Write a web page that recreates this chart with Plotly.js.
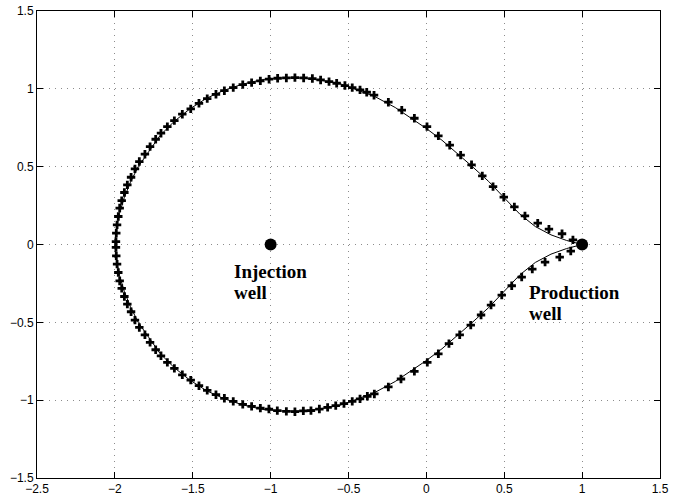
<!DOCTYPE html>
<html>
<head>
<meta charset="utf-8">
<script src="https://cdn.plot.ly/plotly-3.0.1.min.js"></script>
<style>html,body{margin:0;padding:0;background:#fff;}#chart{width:673px;height:504px;}</style>
</head>
<body>
<div id="chart"></div>
<script>
// Solid line (front), upper branch then lower branch
const lineX = [1.0, 0.96, 0.9, 0.8, 0.7, 0.6, 0.5, 0.4, 0.29, 0.2, 0.1, 0.0, -0.08, -0.2, -0.33, -0.45, -0.56, -0.68, -0.8, -0.92, -1.05, -1.18, -1.3, -1.41, -1.52, -1.62, -1.71, -1.78, -1.85, -1.9, -1.94, -1.97, -1.99, -2.0,
               -1.99, -1.97, -1.94, -1.9, -1.85, -1.78, -1.71, -1.62, -1.52, -1.41, -1.3, -1.18, -1.05, -0.92, -0.8, -0.68, -0.56, -0.45, -0.33, -0.2, -0.08, 0.0, 0.1, 0.2, 0.29, 0.4, 0.5, 0.6, 0.7, 0.8, 0.9, 0.96, 1.0];
const lineY = [0.0, 0.01, 0.026, 0.062, 0.115, 0.195, 0.298, 0.405, 0.505, 0.585, 0.67, 0.745, 0.8, 0.88, 0.95, 0.995, 1.035, 1.055, 1.07, 1.07, 1.06, 1.03, 0.99, 0.94, 0.87, 0.79, 0.7, 0.6, 0.5, 0.4, 0.3, 0.2, 0.1, 0.0,
               -0.1, -0.2, -0.3, -0.4, -0.5, -0.6, -0.7, -0.79, -0.87, -0.94, -0.99, -1.03, -1.06, -1.07, -1.07, -1.055, -1.035, -0.995, -0.95, -0.88, -0.8, -0.745, -0.67, -0.585, -0.505, -0.405, -0.298, -0.195, -0.115, -0.062, -0.026, -0.01, 0.0];

// Plus markers (numerical front), upper branch
const upX = [-1.993, -1.991, -1.986, -1.978, -1.969, -1.956, -1.939, -1.92, -1.896, -1.871, -1.843, -1.807, -1.774, -1.738, -1.704, -1.663, -1.618, -1.567, -1.513, -1.46, -1.407, -1.351, -1.297, -1.24, -1.179, -1.122, -1.066, -1.01, -0.955, -0.899, -0.844, -0.788, -0.732, -0.679, -0.625, -0.576, -0.523, -0.476, -0.426, -0.383, -0.336, -0.244, -0.158, -0.077, 0.004, 0.077, 0.15, 0.22, 0.29, 0.359, 0.428, 0.497, 0.565, 0.633, 0.715, 0.787, 0.871, 0.941];
const upY = [0.019, 0.073, 0.126, 0.18, 0.234, 0.282, 0.334, 0.383, 0.432, 0.486, 0.533, 0.58, 0.629, 0.676, 0.715, 0.757, 0.796, 0.837, 0.871, 0.907, 0.937, 0.965, 0.988, 1.008, 1.027, 1.04, 1.051, 1.062, 1.068, 1.07, 1.072, 1.07, 1.066, 1.057, 1.046, 1.036, 1.021, 1.008, 0.993, 0.978, 0.959, 0.914, 0.863, 0.811, 0.757, 0.698, 0.638, 0.574, 0.512, 0.441, 0.372, 0.304, 0.242, 0.184, 0.137, 0.099, 0.069, 0.03];
// Plus markers, lower branch
const lowX = [-1.993, -1.991, -1.986, -1.978, -1.969, -1.956, -1.939, -1.92, -1.896, -1.871, -1.843, -1.807, -1.774, -1.738, -1.704, -1.663, -1.618, -1.567, -1.513, -1.46, -1.407, -1.351, -1.297, -1.24, -1.179, -1.122, -1.066, -1.011, -0.957, -0.899, -0.844, -0.79, -0.741, -0.687, -0.634, -0.582, -0.529, -0.476, -0.426, -0.379, -0.334, -0.244, -0.163, -0.077, 0.006, 0.077, 0.145, 0.214, 0.285, 0.351, 0.415, 0.484, 0.548, 0.612, 0.68, 0.762, 0.856, 0.927];
const lowY = [-0.019, -0.073, -0.126, -0.18, -0.234, -0.282, -0.334, -0.383, -0.432, -0.486, -0.533, -0.58, -0.629, -0.676, -0.715, -0.757, -0.796, -0.837, -0.871, -0.907, -0.937, -0.965, -0.988, -1.008, -1.027, -1.04, -1.051, -1.057, -1.067, -1.072, -1.074, -1.069, -1.067, -1.057, -1.046, -1.035, -1.022, -1.008, -0.992, -0.975, -0.96, -0.915, -0.864, -0.815, -0.757, -0.702, -0.637, -0.58, -0.518, -0.453, -0.389, -0.325, -0.265, -0.209, -0.158, -0.113, -0.081, -0.042];

// Wells
const wellX = [-1, 1];
const wellY = [0, 0];

const tickVals = [-2.5, -2, -1.5, -1, -0.5, 0, 0.5, 1, 1.5];
const yTickVals = [-1.5, -1, -0.5, 0, 0.5, 1, 1.5];

const traces = [
  {x: lineX, y: lineY, mode: 'lines', line: {color: '#000', width: 1}, hoverinfo: 'skip'},
  {x: upX, y: upY, mode: 'markers', marker: {symbol: 'cross', size: 7, color: '#000'}},
  {x: lowX, y: lowY, mode: 'markers', marker: {symbol: 'cross', size: 7, color: '#000'}},
  {x: wellX, y: wellY, mode: 'markers', marker: {symbol: 'circle', size: 12, color: '#000'}}
];

const annFont = {family: 'Liberation Serif, Times New Roman, serif', size: 19, color: '#000', weight: 'bold'};
const gridStyle = {showgrid: true, gridcolor: '#8c8c8c', griddash: '1px,5px', gridwidth: 1};
const layout = {
  width: 673, height: 504,
  margin: {l: 37, r: 13, t: 11, b: 26},
  paper_bgcolor: '#fff', plot_bgcolor: '#fff',
  showlegend: false,
  font: {family: 'Liberation Sans, Arial, sans-serif', size: 12, color: '#000'},
  xaxis: Object.assign({
    range: [-2.5, 1.5], tickvals: tickVals, ticktext: tickVals.map(v => String(v).replace('-', '\u2212')),
    zeroline: false, showline: true, linecolor: '#000', linewidth: 1, mirror: 'ticks',
    ticks: 'inside', ticklen: 6, tickcolor: '#000', tickfont: {size: 12}
  }, gridStyle),
  yaxis: Object.assign({
    range: [-1.5, 1.5], tickvals: yTickVals, ticktext: yTickVals.map(v => String(v).replace('-', '\u2212')),
    zeroline: false, showline: true, linecolor: '#000', linewidth: 1, mirror: 'ticks',
    ticks: 'inside', ticklen: 6, tickcolor: '#000', tickfont: {size: 12}
  }, gridStyle),
  annotations: [
    {x: -1.245, y: -0.175, xref: 'x', yref: 'y', text: '<b>Injection</b>', showarrow: false, xanchor: 'left', yanchor: 'middle', font: annFont},
    {x: -1.245, y: -0.307, xref: 'x', yref: 'y', text: '<b>well</b>', showarrow: false, xanchor: 'left', yanchor: 'middle', font: annFont},
    {x: 0.646, y: -0.31, xref: 'x', yref: 'y', text: '<b>Production</b>', showarrow: false, xanchor: 'left', yanchor: 'middle', font: annFont},
    {x: 0.646, y: -0.445, xref: 'x', yref: 'y', text: '<b>well</b>', showarrow: false, xanchor: 'left', yanchor: 'middle', font: annFont}
  ]
};

Plotly.newPlot('chart', traces, layout, {displayModeBar: false, staticPlot: true});
</script>
</body>
</html>
